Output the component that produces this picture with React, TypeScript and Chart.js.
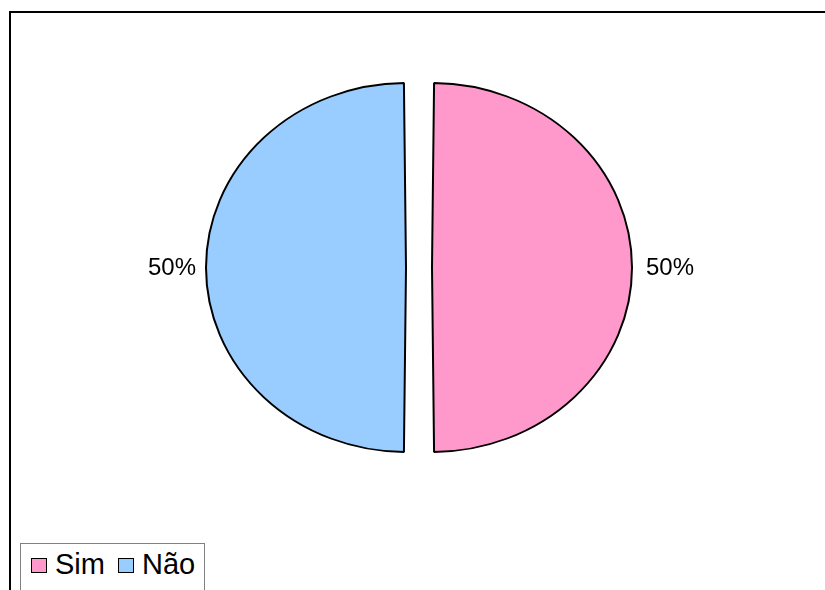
import React, { useEffect, useRef } from "react";
import { Chart, registerables } from "chart.js";

Chart.register(...registerables);

const categories = ["Sim", "Não"];
const values = [50, 50];
const colors = ["#FF99CC", "#99CCFF"];

const Y_SCALE = 184.5 / 200;
const OFFSET = 52; // Chart.js shifts arcs by offset / 4

const ellipsePlugin = {
  id: "ellipse",
  beforeDatasetsDraw(chart: any) {
    const ctx = chart.ctx;
    const cy = (chart.chartArea.top + chart.chartArea.bottom) / 2;
    ctx.save();
    ctx.translate(0, cy);
    ctx.scale(1, Y_SCALE);
    ctx.translate(0, -cy);
  },
  afterDatasetsDraw(chart: any) {
    chart.ctx.restore();
  },
  afterDraw(chart: any) {
    const ctx = chart.ctx;
    const meta = chart.getDatasetMeta(0);
    const total = values.reduce((a, b) => a + b, 0);
    const cy = (chart.chartArea.top + chart.chartArea.bottom) / 2;
    ctx.save();
    ctx.font = "24px 'Liberation Sans', Arial, sans-serif";
    ctx.fillStyle = "#000";
    ctx.textBaseline = "middle";
    meta.data.forEach((el: any, i: number) => {
      const p = el.getProps(["x", "y", "startAngle", "endAngle", "outerRadius"], true);
      const mid = (p.startAngle + p.endAngle) / 2;
      const r = p.outerRadius + 2 * (OFFSET / 4) + 12;
      const x = p.x + Math.cos(mid) * r + 2;
      const y = cy + (p.y - cy + Math.sin(mid) * r) * Y_SCALE + 1;
      ctx.textAlign = Math.cos(mid) >= 0 ? "left" : "right";
      ctx.fillText(Math.round((values[i] / total) * 100) + "%", x, y);
    });
    ctx.restore();
  },
};

export default function App() {
  const ref = useRef<HTMLCanvasElement>(null);
  useEffect(() => {
    if (!ref.current) return;
    const chart = new Chart(ref.current, {
      type: "pie",
      data: {
        labels: categories,
        datasets: [
          {
            data: values,
            backgroundColor: colors,
            borderColor: "#000",
            borderWidth: 2,
            offset: OFFSET,
            hoverOffset: OFFSET,
          },
        ],
      },
      options: {
        responsive: false,
        animation: false,
        devicePixelRatio: 1,
        radius: 187,
        layout: { padding: { left: 13, right: 0, top: 0, bottom: 55 } },
        plugins: {
          legend: { display: false },
          tooltip: { enabled: false },
        },
      } as any,
      plugins: [ellipsePlugin],
    });
    return () => chart.destroy();
  }, []);

  return (
    <div
      style={{
        position: "fixed",
        left: 0,
        top: 0,
        width: 825,
        height: 590,
        background: "#fff",
        overflow: "hidden",
        fontFamily: "'Liberation Sans', Arial, sans-serif",
      }}
    >
      <div
        style={{
          position: "absolute",
          left: 9,
          top: 11,
          width: 830,
          height: 600,
          borderTop: "2px solid #000",
          borderLeft: "2px solid #000",
        }}
      />
      <canvas
        ref={ref}
        width={825}
        height={590}
        style={{ position: "absolute", left: 0, top: 0, width: 825, height: 590 }}
      />
      <div
        style={{
          position: "absolute",
          left: 20,
          top: 543,
          width: 185,
          height: 60,
          border: "1px solid #808080",
          background: "#fff",
          boxSizing: "border-box",
        }}
      >
        {categories.map((c, i) => (
          <span
            key={c}
            style={{
              position: "absolute",
              top: 4,
              left: i === 0 ? 10 : 97,
              display: "flex",
              alignItems: "center",
              fontSize: 29,
              lineHeight: "32px",
              color: "#000",
            }}
          >
            <span
              style={{
                display: "inline-block",
                width: 14,
                height: 13,
                background: colors[i],
                border: "1.5px solid #000",
                marginRight: 8,
                marginTop: 3,
              }}
            />
            {c}
          </span>
        ))}
      </div>
    </div>
  );
}
